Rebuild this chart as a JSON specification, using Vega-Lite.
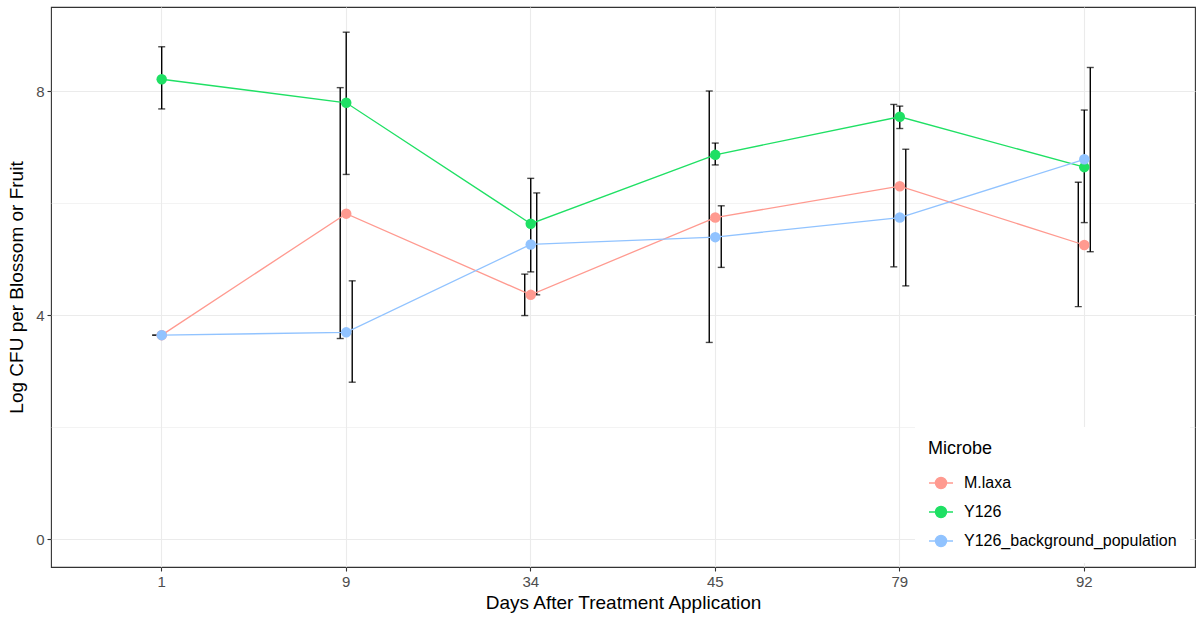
{
  "$schema": "https://vega.github.io/schema/vega-lite/v6.json",
  "autosize": {"type": "none"},
  "width": 1144,
  "height": 560,
  "padding": {"left": 51, "top": 7, "right": 1, "bottom": 52},
  "background": "white",
  "config": {
    "font": "Liberation Sans",
    "view": {"stroke": "#333333", "strokeWidth": 1.1}
  },
  "data": {
    "values": [
      {"Day": "1", "Microbe": "M.laxa", "mean": 3.64, "lo": 3.64, "hi": 3.64},
      {"Day": "1", "Microbe": "Y126", "mean": 8.21, "lo": 7.68, "hi": 8.79},
      {"Day": "1", "Microbe": "Y126_background_population", "mean": 3.64, "lo": null, "hi": null},
      {"Day": "9", "Microbe": "M.laxa", "mean": 5.81, "lo": 3.58, "hi": 8.06},
      {"Day": "9", "Microbe": "Y126", "mean": 7.79, "lo": 6.51, "hi": 9.05},
      {"Day": "9", "Microbe": "Y126_background_population", "mean": 3.69, "lo": 2.8, "hi": 4.61},
      {"Day": "34", "Microbe": "M.laxa", "mean": 4.36, "lo": 3.99, "hi": 4.73},
      {"Day": "34", "Microbe": "Y126", "mean": 5.63, "lo": 4.77, "hi": 6.44},
      {"Day": "34", "Microbe": "Y126_background_population", "mean": 5.26, "lo": 4.36, "hi": 6.18},
      {"Day": "45", "Microbe": "M.laxa", "mean": 5.74, "lo": 3.51, "hi": 8.0},
      {"Day": "45", "Microbe": "Y126", "mean": 6.86, "lo": 6.68, "hi": 7.07},
      {"Day": "45", "Microbe": "Y126_background_population", "mean": 5.39, "lo": 4.85, "hi": 5.95},
      {"Day": "79", "Microbe": "M.laxa", "mean": 6.3, "lo": 4.86, "hi": 7.76},
      {"Day": "79", "Microbe": "Y126", "mean": 7.54, "lo": 7.33, "hi": 7.73},
      {"Day": "79", "Microbe": "Y126_background_population", "mean": 5.74, "lo": 4.52, "hi": 6.96},
      {"Day": "92", "Microbe": "M.laxa", "mean": 5.25, "lo": 4.15, "hi": 6.37},
      {"Day": "92", "Microbe": "Y126", "mean": 6.64, "lo": 5.65, "hi": 7.66},
      {"Day": "92", "Microbe": "Y126_background_population", "mean": 6.78, "lo": 5.13, "hi": 8.42}
    ]
  },
  "encoding": {
    "x": {
      "field": "Day",
      "type": "nominal",
      "sort": ["1", "9", "34", "45", "79", "92"],
      "scale": {"type": "band", "paddingInner": 0, "paddingOuter": 0.1},
      "axis": {
        "title": "Days After Treatment Application",
        "labelAngle": 0,
        "bandPosition": 0.5,
        "domain": false,
        "grid": true,
        "gridColor": "#EBEBEB",
        "gridWidth": 1.1,
        "tickColor": "#333333",
        "tickSize": 4,
        "tickWidth": 1.1,
        "labelFontSize": 15,
        "labelColor": "#4D4D4D",
        "labelPadding": 3,
        "titleFontSize": 19,
        "titleFontWeight": "normal",
        "titleColor": "black",
        "titlePadding": 4
      }
    }
  },
  "layer": [
    {
      "mark": {"type": "rule", "color": "black", "strokeWidth": 1.4},
      "encoding": {
        "xOffset": {"field": "Microbe", "type": "nominal", "scale": {"domain": ["M.laxa", "Y126", "Y126_background_population"], "range": [83.25, 101.25]}},
        "y": {"field": "lo", "type": "quantitative"},
        "y2": {"field": "hi"}
      }
    },
    {
      "mark": {"type": "tick", "color": "black", "thickness": 1.4, "size": 7, "orient": "horizontal"},
      "encoding": {
        "xOffset": {"field": "Microbe", "type": "nominal", "scale": {"domain": ["M.laxa", "Y126", "Y126_background_population"], "range": [83.25, 101.25]}},
        "y": {"field": "lo", "type": "quantitative"}
      }
    },
    {
      "mark": {"type": "tick", "color": "black", "thickness": 1.4, "size": 7, "orient": "horizontal"},
      "encoding": {
        "xOffset": {"field": "Microbe", "type": "nominal", "scale": {"domain": ["M.laxa", "Y126", "Y126_background_population"], "range": [83.25, 101.25]}},
        "y": {"field": "hi", "type": "quantitative"}
      }
    },
    {
      "mark": {"type": "line", "strokeWidth": 1.3},
      "encoding": {
        "y": {"field": "mean", "type": "quantitative"},
        "color": {"field": "Microbe", "type": "nominal"}
      }
    },
    {
      "mark": {"type": "point", "filled": true, "size": 110, "opacity": 1},
      "encoding": {
        "y": {
          "field": "mean",
          "type": "quantitative",
          "title": "Log CFU per Blossom or Fruit",
          "scale": {"domain": [-0.5, 9.5], "nice": false, "zero": false},
          "axis": {
            "values": [0, 2, 4, 6, 8],
            "labelExpr": "datum.value % 4 == 0 ? datum.label : ''",
            "domain": false,
            "grid": true,
            "gridColor": "#EBEBEB",
            "gridWidth": {"condition": {"test": "datum.value % 4 == 0", "value": 1.1}, "value": 0.6},
            "tickColor": "#333333",
            "tickOpacity": {"condition": {"test": "datum.value % 4 == 0", "value": 1}, "value": 0},
            "tickSize": 4,
            "tickWidth": 1.1,
            "labelFontSize": 15,
            "labelColor": "#4D4D4D",
            "labelPadding": 3,
            "titleFontSize": 19,
            "titleFontWeight": "normal",
            "titleColor": "black",
            "titlePadding": 9
          }
        },
        "color": {
          "field": "Microbe",
          "type": "nominal",
          "scale": {"domain": ["M.laxa", "Y126", "Y126_background_population"], "range": ["#FF9A90", "#1FE064", "#91C3FF"]},
          "legend": {
            "orient": "none",
            "legendX": 864,
            "legendY": 420,
            "fillColor": "white",
            "padding": 13,
            "title": "Microbe",
            "titleFontSize": 18,
            "titleFontWeight": "normal",
            "titleColor": "black",
            "titlePadding": 12,
            "labelFontSize": 16,
            "labelColor": "black",
            "labelLimit": 400,
            "labelOffset": 10,
            "rowPadding": 7,
            "symbolType": "M-1,0L1,0M0.46,0A0.46,0.46,0,1,1,-0.46,0A0.46,0.46,0,1,1,0.46,0Z",
            "symbolSize": 576,
            "symbolStrokeWidth": 1.4,
            "symbolOpacity": 1
          }
        }
      }
    }
  ]
}
